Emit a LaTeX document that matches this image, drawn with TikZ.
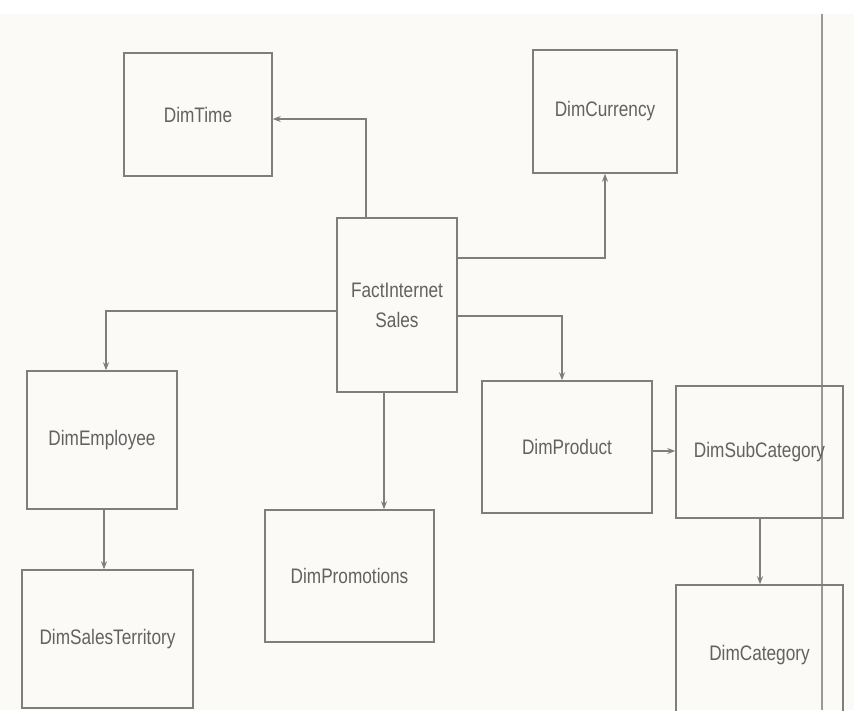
\documentclass[tikz,border=0pt]{standalone}
\usepackage{fontspec}
\newfontfamily\boxfont[FakeStretch=0.82]{Liberation Sans}
\usetikzlibrary{arrows.meta}
\definecolor{paper}{HTML}{FBFAF7}
\definecolor{ink}{HTML}{7E7E7E}
\definecolor{label}{HTML}{626262}
\tikzset{
  table/.style={draw=ink, line width=1.5pt, fill=none, inner sep=0pt,
    font=\boxfont\fontsize{21}{30}\selectfont, text=label, align=center},
  link/.style={draw=ink, line width=1.4pt,
    -{Stealth[length=8pt,width=6pt]}}
}
\begin{document}
\begin{tikzpicture}[x=1pt,y=-1pt]
  \useasboundingbox (0,0) rectangle (854,710);
  \clip (0,0) rectangle (854,710);
  \fill[white] (0,0) rectangle (854,710);
  \fill[paper] (0,14) rectangle (854,710);
  % page gutter rule
  \draw[ink!80, line width=2pt] (822,14) -- (822,710);

  % tables
  \node[table, minimum width=148, minimum height=123] (time) at (198,114.5) {DimTime};
  \node[table, minimum width=144, minimum height=123] (curr) at (605,111.5) {DimCurrency};
  \node[table, minimum width=120, minimum height=174] (fact) at (397,305) {FactInternet\\Sales};
  \node[table, minimum width=150, minimum height=138] (emp) at (102,440) {DimEmployee};
  \node[table, minimum width=171, minimum height=138] (terr) at (107.5,639) {DimSalesTerritory};
  \node[table, minimum width=169, minimum height=132] (promo) at (349.5,576) {DimPromotions};
  \node[table, minimum width=170, minimum height=132] (prod) at (567,447) {DimProduct};
  \node[table, minimum width=167, minimum height=132] (sub) at (759.5,452) {DimSubCategory};
  \node[table, minimum width=167, minimum height=140] (cat) at (759.5,655) {DimCategory};

  % relationships
  \draw[link] (fact.north -| 366,0) |- (time.east |- 0,119);
  \draw[link] (fact.east |- 0,258) -| (curr.south);
  \draw[link] (fact.west |- 0,311) -| (emp.north -| 106,0);
  \draw[link] (fact.south -| 384,0) -- (promo.north -| 384,0);
  \draw[link] (fact.east |- 0,316) -| (prod.north -| 562,0);
  \draw[link] (prod.east |- 0,451) -- (sub.west |- 0,451);
  \draw[link] (emp.south -| 104,0) -- (terr.north -| 104,0);
  \draw[link] (sub.south -| 760,0) -- (cat.north -| 760,0);
\end{tikzpicture}
\end{document}
